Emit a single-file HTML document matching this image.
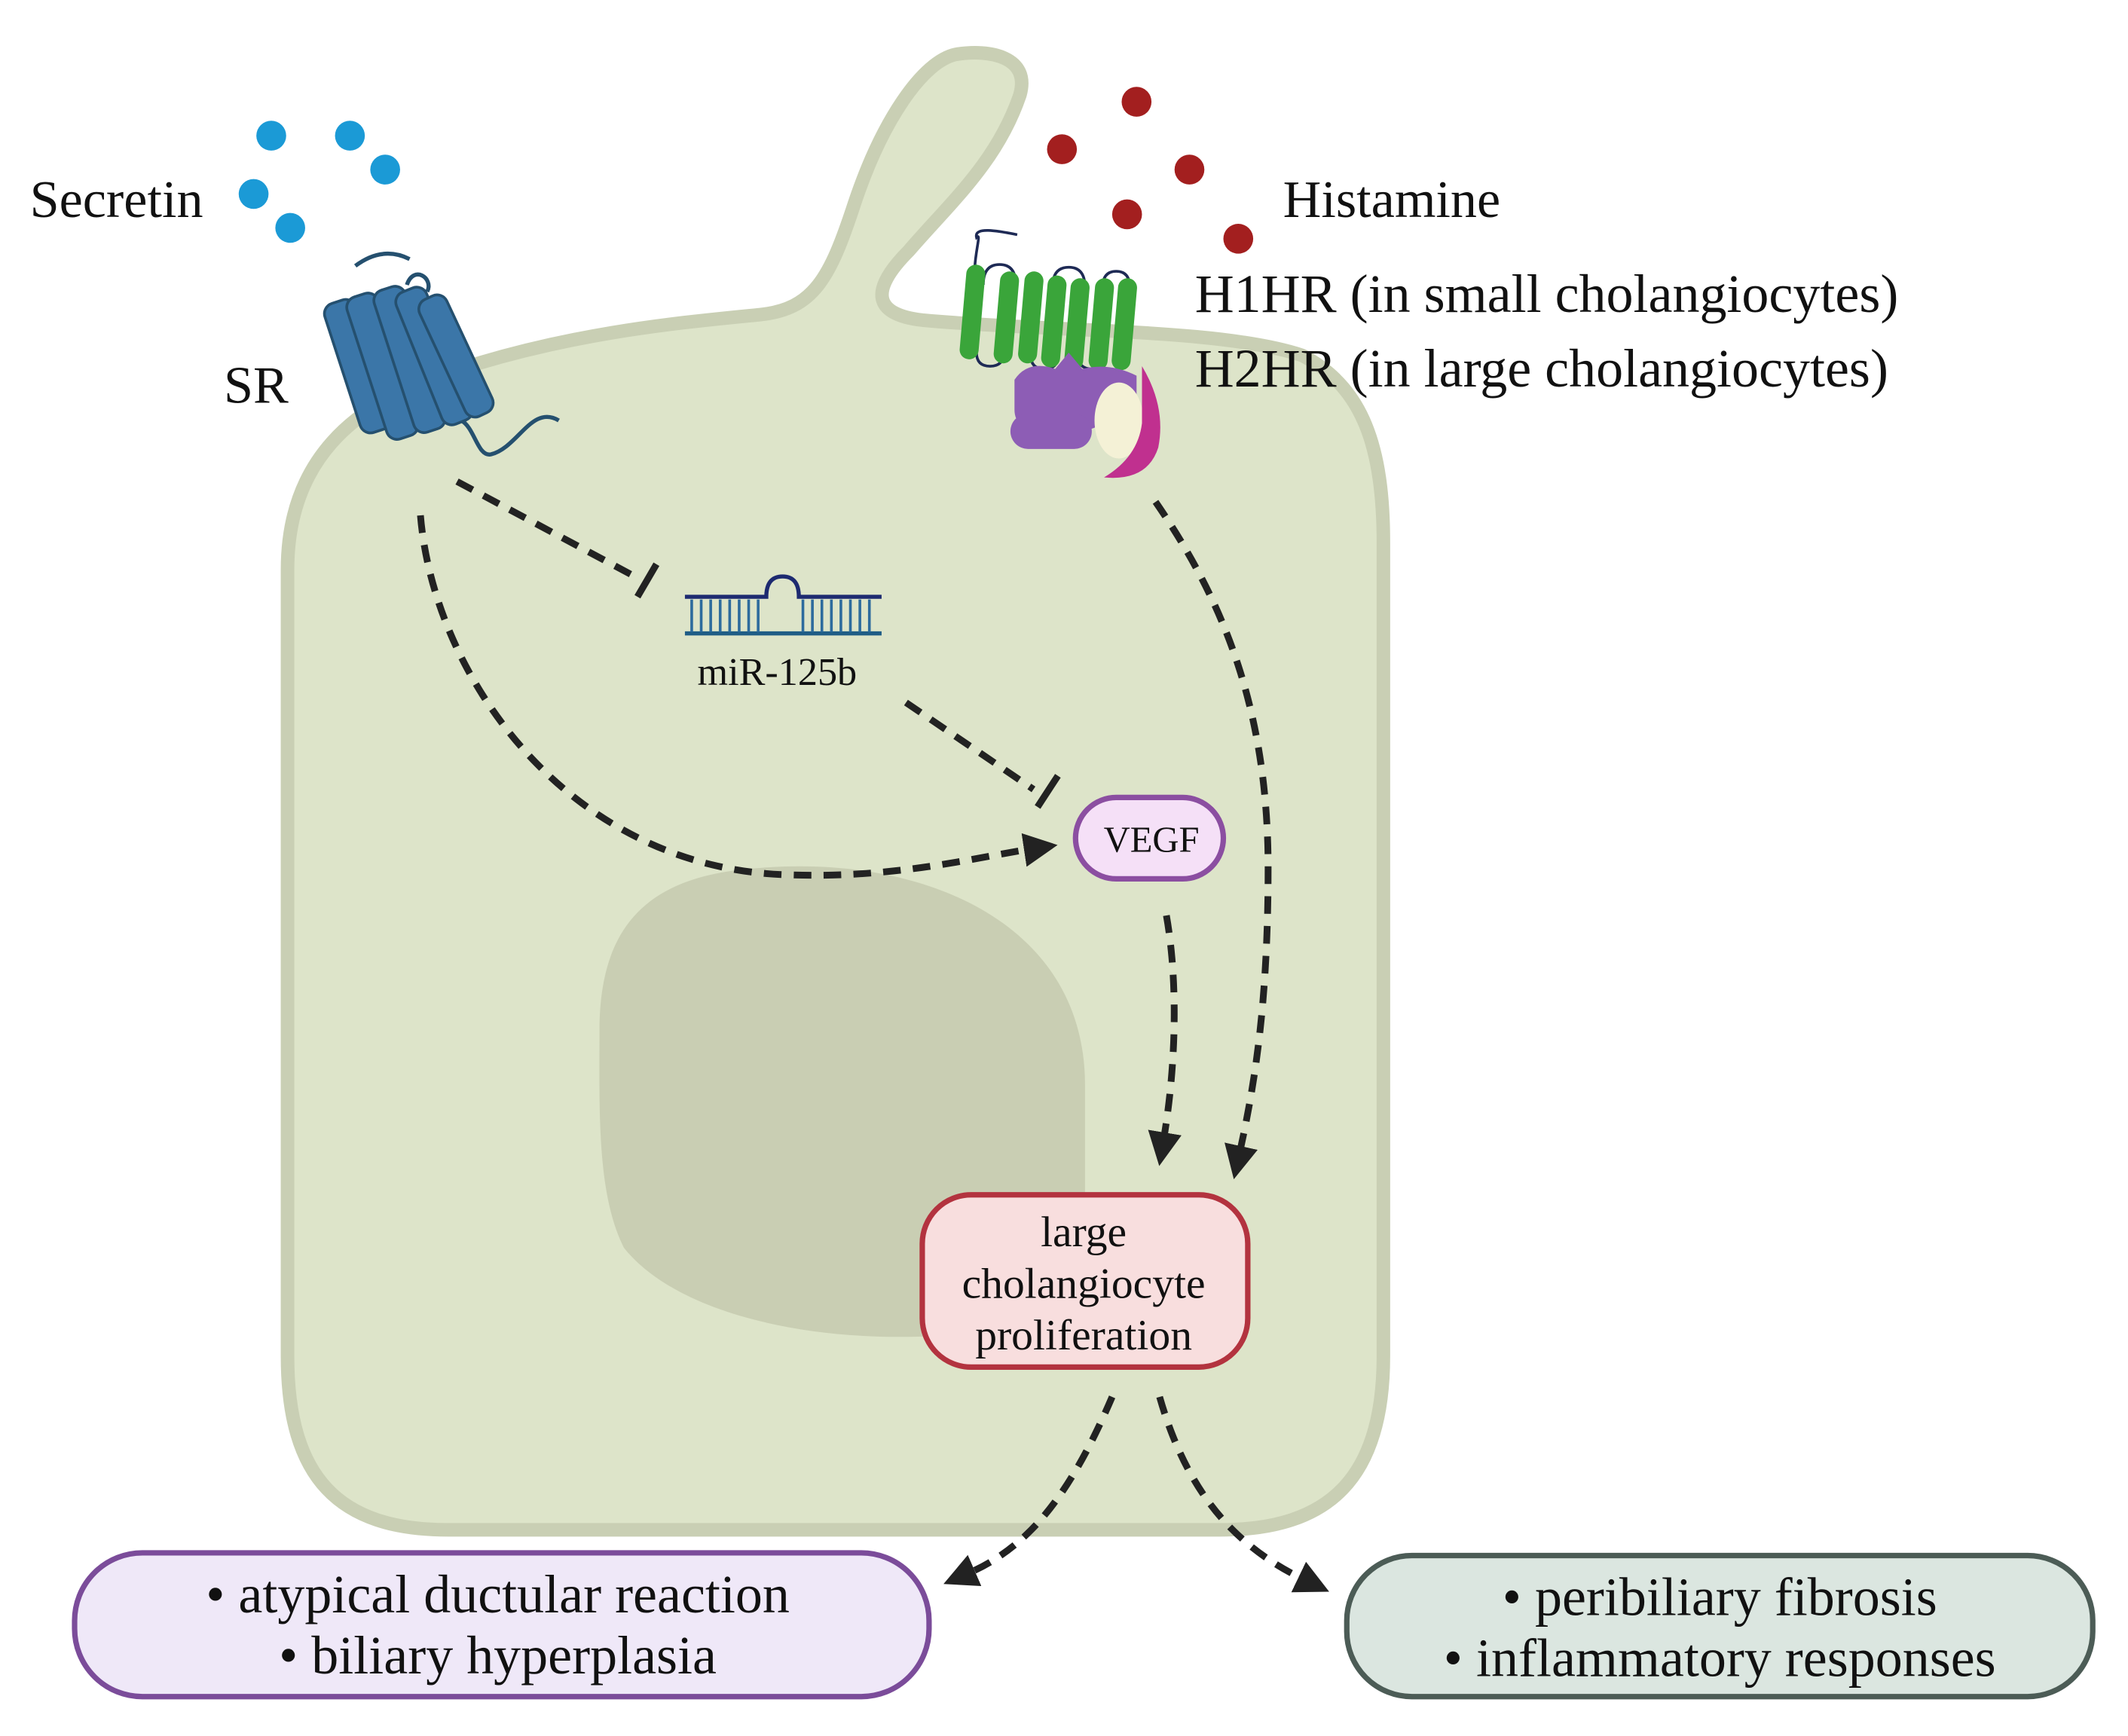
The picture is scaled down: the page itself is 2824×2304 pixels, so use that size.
<!DOCTYPE html>
<html><head><meta charset="utf-8"><style>
html,body{margin:0;padding:0;background:#fff;}
svg{display:block;}
text{font-family:"Liberation Serif",serif;fill:#111;}
</style></head><body>
<svg width="2824" height="2304" viewBox="0 0 1569 1280" xmlns="http://www.w3.org/2000/svg">
<defs>
<marker id="ah" viewBox="0 0 10 10" refX="2" refY="5" markerWidth="5" markerHeight="5" orient="auto" markerUnits="strokeWidth">
<path d="M0,0 L10,5 L0,10 z" fill="#222"/></marker>
</defs>
<!-- cell -->
<path d="M330,275 C420,245 500,238 560,232 C600,228 612,205 630,150 C650,90 680,45 705,40 C730,36 760,42 752,70 C735,120 700,150 670,185 C640,215 645,232 680,236 C780,245 900,242 960,262 C1005,285 1020,330 1020,400 L1020,1000 C1020,1090 980,1128 900,1128 L330,1128 C250,1128 212,1090 212,1000 L212,420 C212,340 260,298 330,275 Z" fill="#dde4c9" stroke="#c9cfb4" stroke-width="10"/>
<!-- nucleus -->
<path d="M560,640 C680,630 800,680 800,800 L800,900 C800,960 760,985 690,985 C600,990 500,970 460,920 C440,880 442,820 442,760 C442,680 480,645 560,640 Z" fill="#c9ceb3"/>
<!-- dots -->
<g fill="#1b9ad6"><circle cx="200" cy="100" r="11"/><circle cx="258" cy="100" r="11"/><circle cx="187" cy="143" r="11"/><circle cx="284" cy="125" r="11"/><circle cx="214" cy="168" r="11"/></g>
<g fill="#a31f1f"><circle cx="838" cy="75" r="11"/><circle cx="783" cy="110" r="11"/><circle cx="877" cy="125" r="11"/><circle cx="831" cy="158" r="11"/><circle cx="913" cy="176" r="11"/></g>
<!-- SR receptor -->
<g fill="#3b76a8" stroke="#25506f" stroke-width="2">
<path d="M300,210 c5,-15 20,-5 15,5" fill="none" stroke="#25506f" stroke-width="3"/>
<path d="M412,310 c-20,-12 -30,20 -50,25 c-10,2 -12,-20 -22,-25" fill="none" stroke="#25506f" stroke-width="3"/>
<path d="M262,196 q20,-15 40,-5" fill="none" stroke="#25506f" stroke-width="3"/>
<rect x="252" y="220" width="24" height="100" rx="8" transform="rotate(-18 264 270)"/>
<rect x="270" y="215" width="24" height="110" rx="8" transform="rotate(-18 282 270)"/>
<rect x="290" y="210" width="24" height="110" rx="8" transform="rotate(-18 302 265)"/>
<rect x="308" y="210" width="24" height="105" rx="8" transform="rotate(-22 320 262)"/>
<rect x="325" y="215" width="22" height="95" rx="8" transform="rotate(-25 336 262)"/>
</g>
<!-- H receptor -->
<g>
<path d="M720,215 c-5,-20 5,-45 0,-40 c-2,-8 15,-5 30,-2" fill="none" stroke="#1e2a55" stroke-width="2"/>
<path d="M725,210 q0,-15 12,-15 q12,0 12,15 M776,212 q0,-15 12,-15 q12,0 12,15 M813,212 q0,-12 10,-12 q10,0 10,12 M720,260 q0,10 10,10 q10,0 10,-10 M760,262 q0,10 10,10 q10,0 10,-10 M795,262 q0,10 10,10 q10,0 10,-10" fill="none" stroke="#1e2a55" stroke-width="2"/>
<g fill="#3aa53a">
<rect x="710" y="195" width="14" height="70" rx="7" transform="rotate(5 717 230)"/>
<rect x="735" y="200" width="14" height="68" rx="7" transform="rotate(5 742 234)"/>
<rect x="753" y="200" width="14" height="68" rx="7" transform="rotate(5 760 234)"/>
<rect x="770" y="203" width="14" height="68" rx="7" transform="rotate(5 777 237)"/>
<rect x="787" y="205" width="14" height="68" rx="7" transform="rotate(5 794 239)"/>
<rect x="805" y="205" width="14" height="68" rx="7" transform="rotate(5 812 239)"/>
<rect x="822" y="205" width="14" height="68" rx="7" transform="rotate(5 829 239)"/>
</g>
<path d="M748,280 q10,-15 30,-8 l10,-12 10,12 q20,-5 40,5 l0,15 -20,0 q0,25 -20,25 l-30,0 q-20,0 -20,-15 z" fill="#8d5db5"/>
<rect x="745" y="305" width="60" height="26" rx="13" fill="#8d5db5"/>
<ellipse cx="825" cy="310" rx="18" ry="28" fill="#f4f1d6"/>
<path d="M842,270 q18,30 12,60 q-8,25 -40,22 q25,-15 28,-40 z" fill="#c0308f"/>
</g>
<!-- miR icon -->
<g stroke="#1d2a70" stroke-width="3" fill="none">
<path d="M505,440 L565,440 q0,-15 12,-15 q12,0 12,15 L650,440"/>
<path d="M505,467 L650,467" stroke="#1f5d86"/>
</g>
<g stroke="#2d6b9d" stroke-width="2">
<path d="M510,442v24M517,442v24M524,442v24M531,442v24M538,442v24M545,442v24M552,442v24M559,442v24M592,442v24M599,442v24M606,442v24M613,442v24M620,442v24M627,442v24M634,442v24M641,442v24"/>
</g>
<!-- labels -->
<text x="22" y="160" font-size="39">Secretin</text>
<text x="946" y="160" font-size="39">Histamine</text>
<text x="881" y="230" font-size="40">H1HR (in small cholangiocytes)</text>
<text x="881" y="285" font-size="40">H2HR (in large cholangiocytes)</text>
<text x="165" y="297" font-size="39">SR</text>
<text x="573" y="505" font-size="29" text-anchor="middle">miR-125b</text>
<!-- boxes -->
<rect x="793" y="588" width="109" height="60" rx="30" fill="#f5e0f7" stroke="#8b4ea1" stroke-width="4"/>
<text x="849" y="628" font-size="27" text-anchor="middle">VEGF</text>
<rect x="680" y="881" width="240" height="127" rx="36" fill="#f8dede" stroke="#b3333f" stroke-width="4"/>
<text x="799" y="919" font-size="32" text-anchor="middle">large</text>
<text x="799" y="957" font-size="32" text-anchor="middle">cholangiocyte</text>
<text x="799" y="995" font-size="32" text-anchor="middle">proliferation</text>
<rect x="55" y="1145" width="630" height="106" rx="50" fill="#efe8f8" stroke="#7b4c9a" stroke-width="4"/>
<text x="367" y="1189" font-size="40" text-anchor="middle">• atypical ductular reaction</text>
<text x="367" y="1234" font-size="40" text-anchor="middle">• biliary hyperplasia</text>
<rect x="993" y="1147" width="550" height="104" rx="48" fill="#dbe6e0" stroke="#4c5c56" stroke-width="4"/>
<text x="1268" y="1191" font-size="40" text-anchor="middle">• peribiliary fibrosis</text>
<text x="1268" y="1236" font-size="40" text-anchor="middle">• inflammatory responses</text>
<!-- connectors -->
<g fill="none" stroke="#222" stroke-width="5" stroke-dasharray="13,9">
<path d="M337,355 L468,425"/>
<path d="M668,518 L762,582"/>
<path d="M310,380 C320,500 420,640 580,645 C660,648 720,632 760,626" marker-end="url(#ah)"/>
<path d="M852,370 C900,440 935,520 935,640 C935,740 925,800 914,850" marker-end="url(#ah)"/>
<path d="M860,675 C868,720 868,780 858,840" marker-end="url(#ah)"/>
<path d="M820,1030 C790,1100 760,1140 714,1160" marker-end="url(#ah)"/>
<path d="M855,1030 C875,1100 910,1140 962,1165" marker-end="url(#ah)"/>
</g>
<g stroke="#222" stroke-width="5"><path d="M470,440 L484,416"/><path d="M765,595 L780,572"/></g>
</svg>
</body></html>
